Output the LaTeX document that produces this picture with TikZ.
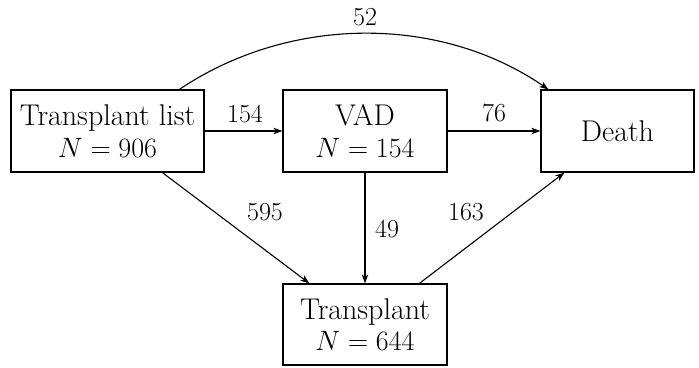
\RequirePackage{fix-cm}
\documentclass[tikz,border=0pt]{standalone}
\usetikzlibrary{arrows.meta,calc}
\newcommand{\mathline}[1]{{\fontsize{28}{31.5}\selectfont$#1$}}
\begin{document}
\begin{tikzpicture}[x=1pt,y=-1pt,
  box/.style={draw,line width=1.2pt,minimum height=82pt,inner sep=0pt,align=center,
    font=\fontsize{30}{31.5}\selectfont},
  flow/.style={line width=1.1pt,-{Stealth[length=9pt,width=6.5pt,inset=2.5pt]}},
  lbl/.style={font=\fontsize{26}{28}\selectfont,inner sep=0pt}]
\useasboundingbox (0,0) rectangle (699,367);
\node[box,minimum width=193pt] (tl) at (107.5,131) {Transplant list\\\mathline{N=906}};
\node[box,minimum width=164pt] (vad) at (365,131) {VAD\\\mathline{N=154}};
\node[box,minimum width=153pt] (death) at (617.5,131) {Death};
\node[box,minimum width=164pt,minimum height=81pt] (tp) at (365,324.5) {Transplant\\\mathline{N=644}};
\coordinate (tlN) at ($(tl.north west)+(169,0)$);
\coordinate (deN) at ($(death.north west)+(8,0)$);
\coordinate (tlS) at ($(tl.south west)+(152,0)$);
\coordinate (tpA) at ($(tp.north west)+(27,0)$);
\coordinate (tpB) at ($(tp.north west)+(137,0)$);
\coordinate (deS) at ($(death.south west)+(24,0)$);
\draw[flow] (tl.east) -- (vad.west);
\draw[flow] (vad.east) -- (death.west);
\draw[flow] (tlN) .. controls (290,15) and (440,15) .. (deN);
\draw[flow] (tlS) -- (tpA);
\draw[flow] (vad.south) -- (tp.north);
\draw[flow] (tpB) -- (deS);
\node[lbl] (l154) at (245,114) {154};
\node[lbl] (l76) at (494,113) {76};
\node[lbl] (l52) at (365,17) {52};
\node[lbl] (l595) at (265,212) {595};
\node[lbl] (l49) at (387,229) {49};
\node[lbl] (l163) at (466,212) {163};
\end{tikzpicture}
\end{document}
